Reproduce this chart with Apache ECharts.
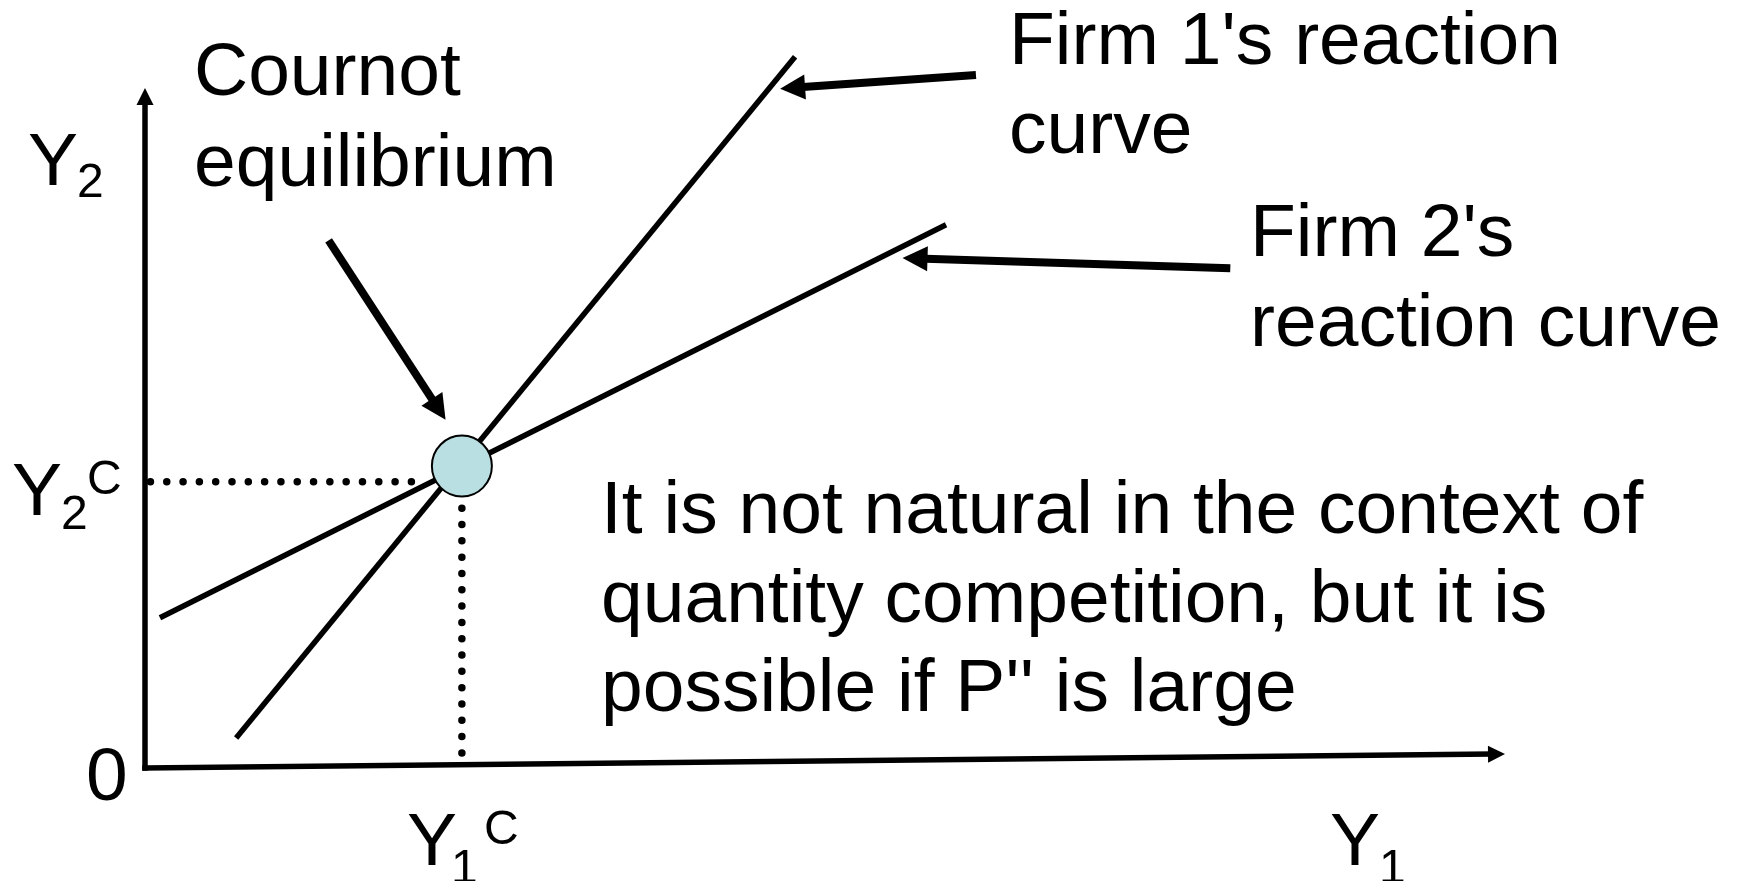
<!DOCTYPE html>
<html>
<head>
<meta charset="utf-8">
<script src="https://cdn.jsdelivr.net/npm/echarts@6/dist/echarts.min.js"></script>
<style>
  html, body { margin: 0; padding: 0; background: #ffffff; }
  #chart { width: 1741px; height: 881px; }
</style>
</head>
<body>
<div id="chart"></div>
<script>
// ---- data (axis units 0..100 on both axes) ----
const firm1Curve = [[6.7, 4.4], [47.8, 104.6]];
const firm2Curve = [[1.1, 22.1], [58.9, 79.9]];
const equilibrium = [[23.3, 44.4]];
const y2cGuide = [[0.4, 42.1], [19.7, 42.1]];
const y1cGuide = [[23.3, 38.2], [23.3, 0]];
const axisArrows = [[0, 0, 100, 2.06], [0, 0, 0, 100]];
const pointerArrows = [
  [13.5, 77.6, 22.1, 51.2],
  [61.1, 101.9, 46.7, 99.9],
  [79.8, 73.5, 55.7, 75.0]
];
const calloutCournot = ['Cournot', 'equilibrium'];
const calloutFirm1 = ["Firm 1's reaction", 'curve'];
const calloutFirm2 = ["Firm 2's", 'reaction curve'];
const noteLines = ['It is not natural in the context of', 'quantity competition, but it is', "possible if P'' is large"];

// ---- rendering ----
const FONT = '"Liberation Sans", Arial, Helvetica, sans-serif';
const MID = 0.30; // canvas 'middle' baseline offset (em) above alphabetic baseline

function txt(s, x, baseline, fs) {
  return {
    type: 'text', x: x, y: baseline - MID * fs, silent: true,
    style: { text: s, fontSize: fs, fontFamily: FONT, fill: '#000', align: 'left', verticalAlign: 'middle' }
  };
}
function block(lines, x, baseline0, step, fs) {
  return lines.map((s, i) => txt(s, x, baseline0 + i * step, fs));
}

function arrowRenderer(headLen, headW, lw, cap) {
  return function (params, api) {
    const p1 = api.coord([api.value(0), api.value(1)]);
    const p2 = api.coord([api.value(2), api.value(3)]);
    const dx = p2[0] - p1[0], dy = p2[1] - p1[1];
    const L = Math.hypot(dx, dy);
    const ux = dx / L, uy = dy / L, nx = -uy, ny = ux;
    const bx = p2[0] - ux * headLen, by = p2[1] - uy * headLen;
    return {
      type: 'group',
      children: [
        { type: 'line', shape: { x1: p1[0], y1: p1[1], x2: bx + ux * 2, y2: by + uy * 2 },
          style: { stroke: '#000', lineWidth: lw, lineCap: cap } },
        { type: 'polygon', shape: { points: [[p2[0], p2[1]], [bx + nx * headW / 2, by + ny * headW / 2], [bx - nx * headW / 2, by - ny * headW / 2]] },
          style: { fill: '#000' } }
      ]
    };
  };
}

const chart = echarts.init(document.getElementById('chart'), null, { renderer: 'canvas' });

const graphics = [].concat(
  block(calloutCournot, 194, 97, 91, 75),
  block(calloutFirm1, 1009, 66, 89, 75),
  block(calloutFirm2, 1250, 258, 90, 75),
  block(noteLines, 601, 535, 89, 75),
  [
    txt('Y', 28, 187, 75), txt('2', 77, 198, 48),
    txt('Y', 12, 517, 75), txt('2', 61, 530, 48), txt('C', 87, 495, 48),
    txt('0', 86, 802, 75),
    txt('Y', 407, 867, 75), txt('1', 451, 884, 48), txt('C', 484, 845, 48),
    txt('Y', 1330, 867, 75), txt('1', 1379, 884, 48)
  ]
);

chart.setOption({
  animation: false,
  backgroundColor: '#ffffff',
  grid: { left: 145, top: 88, width: 1360, height: 680, containLabel: false },
  xAxis: { type: 'value', min: 0, max: 100, show: false },
  yAxis: { type: 'value', min: 0, max: 100, show: false },
  series: [
    { type: 'custom', name: 'axes', clip: false, data: axisArrows,
      encode: { x: [0, 2], y: [1, 3] }, renderItem: arrowRenderer(17, 17, 5.5, 'square'), z: 3 },
    { type: 'line', name: 'Firm 1', data: firm1Curve, clip: false, symbol: 'none',
      lineStyle: { color: '#000', width: 5.5 }, z: 2 },
    { type: 'line', name: 'Firm 2', data: firm2Curve, clip: false, symbol: 'none',
      lineStyle: { color: '#000', width: 5.5 }, z: 2 },
    { type: 'line', name: 'Y2C', data: y2cGuide, clip: false, symbol: 'none',
      lineStyle: { color: '#000', width: 7.5, type: [0.01, 16.3], cap: 'round' }, z: 2 },
    { type: 'line', name: 'Y1C', data: y1cGuide, clip: false, symbol: 'none',
      lineStyle: { color: '#000', width: 7.5, type: [0.01, 16.3], cap: 'round' }, z: 2 },
    { type: 'custom', name: 'pointers', clip: false, data: pointerArrows,
      encode: { x: [0, 2], y: [1, 3] }, renderItem: arrowRenderer(25, 25, 8, 'butt'), z: 3 },
    { type: 'scatter', name: 'equilibrium', data: equilibrium, symbol: 'circle', symbolSize: [60, 61],
      itemStyle: { color: '#b9dfe2', borderColor: '#000', borderWidth: 2, opacity: 1 }, z: 5 }
  ],
  graphic: graphics
});
</script>
</body>
</html>
